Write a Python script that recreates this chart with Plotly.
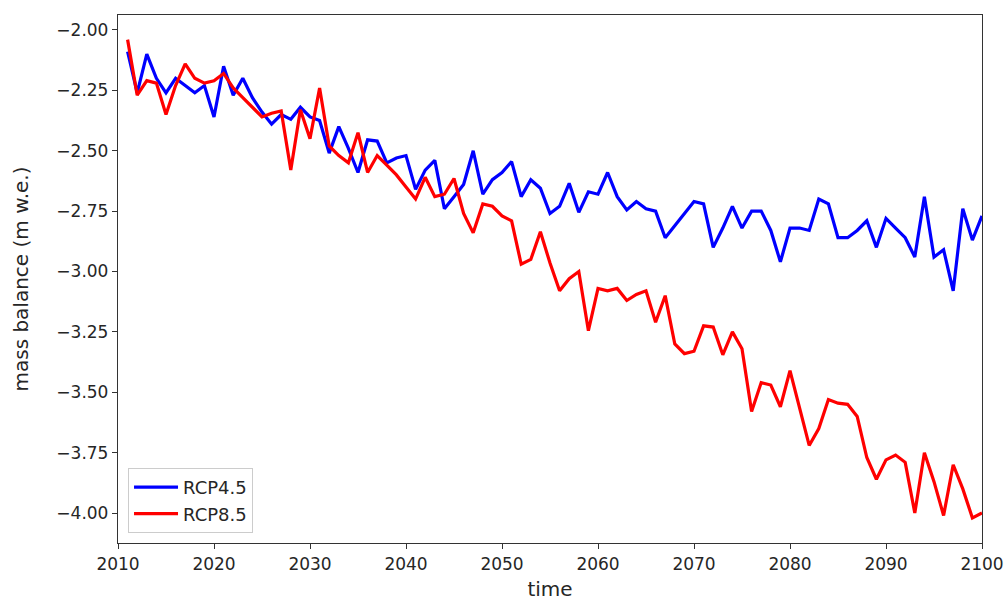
import plotly.graph_objects as go

# Annual glacier mass balance projections (m w.e.), 2011-2100
years = list(range(2011, 2101))

rcp45 = [
    -2.09, -2.26, -2.10, -2.20, -2.26, -2.20, -2.23, -2.26, -2.23, -2.36,  # 2011-2020
    -2.15, -2.27, -2.20, -2.28, -2.34, -2.39, -2.35, -2.37, -2.32, -2.36,  # 2021-2030
    -2.375, -2.51, -2.40, -2.49, -2.59, -2.455, -2.46, -2.55, -2.53, -2.52,  # 2031-2040
    -2.66, -2.58, -2.54, -2.74, -2.69, -2.64, -2.50, -2.68, -2.62, -2.59,  # 2041-2050
    -2.545, -2.69, -2.62, -2.655, -2.76, -2.73, -2.635, -2.755, -2.67, -2.68,  # 2051-2060
    -2.59, -2.69, -2.745, -2.71, -2.74, -2.75, -2.86, -2.81, -2.76, -2.71,  # 2061-2070
    -2.72, -2.90, -2.82, -2.73, -2.82, -2.75, -2.75, -2.83, -2.96, -2.82,  # 2071-2080
    -2.82, -2.83, -2.70, -2.72, -2.86, -2.86, -2.83, -2.79, -2.90, -2.78,  # 2081-2090
    -2.82, -2.86, -2.94, -2.69, -2.94, -2.91, -3.08, -2.74, -2.87, -2.77,  # 2091-2100
]

rcp85 = [
    -2.04, -2.27, -2.21, -2.22, -2.35, -2.23, -2.14, -2.20, -2.22, -2.21,  # 2011-2020
    -2.18, -2.24, -2.28, -2.32, -2.36, -2.345, -2.335, -2.58, -2.33, -2.45,  # 2021-2030
    -2.24, -2.48, -2.52, -2.55, -2.425, -2.59, -2.52, -2.56, -2.60, -2.65,  # 2031-2040
    -2.70, -2.61, -2.69, -2.68, -2.615, -2.76, -2.84, -2.72, -2.73, -2.77,  # 2041-2050
    -2.79, -2.97, -2.95, -2.835, -2.965, -3.08, -3.03, -3.00, -3.245, -3.07,  # 2051-2060
    -3.08, -3.07, -3.12, -3.095, -3.08, -3.21, -3.10, -3.30, -3.34, -3.33,  # 2061-2070
    -3.225, -3.23, -3.345, -3.25, -3.32, -3.58, -3.46, -3.47, -3.56, -3.41,  # 2071-2080
    -3.56, -3.72, -3.65, -3.53, -3.545, -3.55, -3.60, -3.77, -3.86, -3.78,  # 2081-2090
    -3.76, -3.79, -4.00, -3.75, -3.87, -4.01, -3.80, -3.90, -4.02, -4.00,  # 2091-2100
]

x_ticks = list(range(2010, 2101, 10))
y_ticks = [-2.00, -2.25, -2.50, -2.75, -3.00, -3.25, -3.50, -3.75, -4.00]

FONT = "DejaVu Sans"
TXT = "#262626"

fig = go.Figure()
fig.add_trace(go.Scatter(x=years, y=rcp45, mode="lines", name="RCP4.5",
                         line=dict(color="#0000ff", width=3.2)))
fig.add_trace(go.Scatter(x=years, y=rcp85, mode="lines", name="RCP8.5",
                         line=dict(color="#ff0000", width=3.2)))

axis_common = dict(
    showline=True, linecolor="#333333", linewidth=1.3, mirror=True,
    ticks="outside", ticklen=5, tickwidth=1.2, tickcolor="#333333",
    showgrid=False, zeroline=False, automargin=False,
    ticklabeloverflow="allow",
    tickfont=dict(family=FONT, size=17, color=TXT),
)

fig.update_layout(
    width=1005, height=604,
    margin=dict(l=118, r=23, t=15, b=61),
    paper_bgcolor="white", plot_bgcolor="white",
    font=dict(family=FONT, color=TXT),
    xaxis=dict(range=[2010, 2100], tickvals=x_ticks,
               ticktext=[str(v) for v in x_ticks],
               title=dict(text="time", font=dict(family=FONT, size=20, color=TXT),
                          standoff=9),
               **axis_common),
    yaxis=dict(range=[-4.124, -1.938], tickvals=y_ticks,
               ticktext=["\u2212%.2f" % abs(v) for v in y_ticks],
               title=dict(text="mass balance (m w.e.)",
                          font=dict(family=FONT, size=20, color=TXT), standoff=22),
               **axis_common),
    legend=dict(x=0.0116, y=0.019, xanchor="left", yanchor="bottom",
                bgcolor="rgba(255,255,255,0.8)", bordercolor="#cccccc", borderwidth=1,
                font=dict(family=FONT, size=18, color=TXT),
                itemwidth=44, tracegroupgap=0),
    showlegend=True,
)

fig.write_html("out.html")
